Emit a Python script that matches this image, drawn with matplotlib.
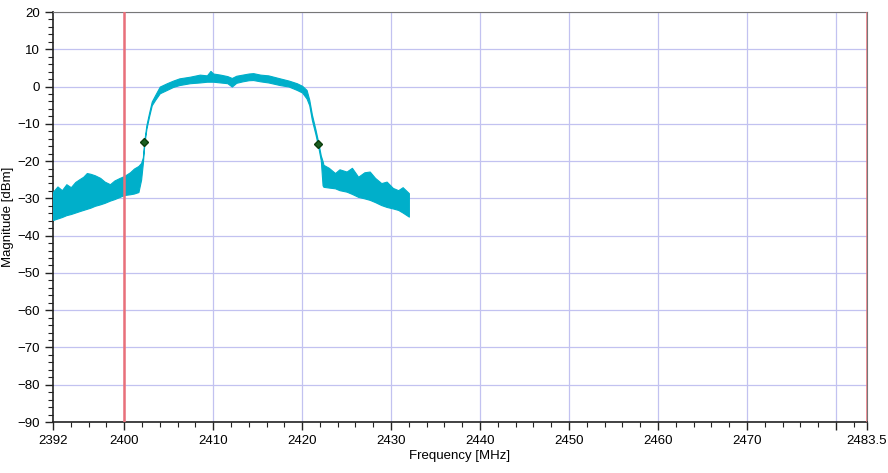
import matplotlib.pyplot as plt
from matplotlib.ticker import MultipleLocator, FixedLocator

# --- Daten (obere/untere Huellkurve des Spektrums) ---
freq_mhz = [2392.0, 2392.5, 2393.0, 2393.5, 2394.0, 2394.5, 2395.0, 2395.4, 2395.8, 2396.2,
            2396.7, 2397.3, 2397.8, 2398.4, 2398.9, 2399.5, 2400.0, 2400.65, 2401.1, 2401.6,
            2401.9, 2402.1, 2402.26, 2402.5, 2402.8, 2403.1, 2403.5, 2404.0, 2404.8, 2405.5,
            2406.2, 2407.4, 2408.5, 2409.3, 2409.7, 2410.0, 2410.8, 2411.6, 2412.1, 2412.6,
            2413.3, 2414.0, 2414.5, 2415.3, 2416.2, 2417.5, 2418.5, 2419.4, 2420.0, 2420.5,
            2420.8, 2421.1, 2421.5, 2421.8, 2422.1, 2422.3, 2422.4, 2423.0, 2423.7, 2424.2,
            2425.0, 2425.6, 2426.3, 2427.0, 2427.6, 2428.2, 2428.9, 2429.5, 2430.2, 2430.8,
            2431.3, 2432.0]
upper_dbm = [-28.2, -26.8, -27.8, -26.2, -27.0, -25.6, -24.8, -24.2, -23.2, -23.4,
             -23.8, -24.5, -25.5, -26.2, -25.2, -24.5, -24.0, -23.0, -22.0, -21.3,
             -20.5, -19.0, -14.5, -10.3, -7.0, -4.0, -2.2, 0.0, 0.9, 1.6,
             2.2, 2.65, 3.2, 3.0, 4.2, 3.5, 3.2, 2.8, 2.3, 2.9,
             3.2, 3.5, 3.6, 3.2, 3.0, 2.2, 1.6, 0.9, 0.2, -0.9,
             -3.5, -7.5, -11.5, -14.8, -18.5, -20.0, -21.0, -21.8, -23.2, -22.2,
             -22.8, -21.8, -24.2, -23.0, -22.8, -24.5, -25.9, -25.5, -27.2, -27.8,
             -27.0, -28.6]
lower_dbm = [-35.8, -35.4, -35.0, -34.5, -34.2, -33.8, -33.4, -33.1, -32.8, -32.5,
             -32.0, -31.6, -31.2, -30.6, -30.2, -29.6, -29.1, -28.9, -28.7, -28.3,
             -25.0, -20.5, -15.5, -11.3, -8.0, -5.0, -3.5, -1.8, -0.9, -0.1,
             0.4, 0.9, 1.1, 1.3, 1.3, 1.3, 1.1, 0.9, 0.0, 1.0,
             1.4, 1.7, 1.75, 1.4, 1.1, 0.4, 0.0, -0.9, -1.6, -3.2,
             -5.0, -9.0, -12.8, -16.0, -19.8, -26.5, -26.9, -27.1, -27.3, -27.8,
             -28.2, -28.8, -29.6, -30.0, -30.4, -31.0, -31.8, -32.3, -32.7, -33.1,
             -33.8, -34.9]

marker_f = [2402.26, 2421.8]
marker_dbm = [-15.0, -15.3]

limit_lines = [2400, 2483.5]
x_ticks = [2392, 2400, 2410, 2420, 2430, 2440, 2450, 2460, 2470, 2480, 2483.5]
x_tick_labels = ["2392", "2400", "2410", "2420", "2430", "2440", "2450", "2460", "2470", "", "2483.5"]
x_grid = [2400, 2410, 2420, 2430, 2440, 2450, 2460, 2470, 2480]

plt.rcParams["font.family"] = ["Liberation Sans", "DejaVu Sans"]

fig = plt.figure(figsize=(8.88, 4.73), dpi=100)
ax = fig.add_axes([0.0597, 0.1078, 0.9167, 0.8668])

trace_col = "#00AFCA"
ax.fill_between(freq_mhz, lower_dbm, upper_dbm, color=trace_col, lw=0.8, edgecolor=trace_col, zorder=3)

for f in limit_lines:
    ax.axvline(f, color="#E9707A", lw=1.8, zorder=4)

ax.plot(marker_f, marker_dbm, ls="none", marker="D", ms=4, color="#1B5E20",
        markeredgecolor="#0B3D0B", zorder=5)

ax.set_xlim(2392, 2483.5)
ax.set_ylim(-90, 20)

ax.xaxis.set_major_locator(FixedLocator(x_ticks))
ax.set_xticklabels(x_tick_labels)
ax.xaxis.set_minor_locator(MultipleLocator(2))
ax.yaxis.set_major_locator(MultipleLocator(10))
ax.yaxis.set_minor_locator(MultipleLocator(2))

ax.tick_params(which="major", direction="out", length=6, width=1, labelsize=9.5, color="#222222")
ax.tick_params(which="minor", direction="out", length=3.5, width=0.8, color="#222222")

# Gitter
for f in x_grid:
    ax.axvline(f, color="#C2C2F0", lw=0.9, zorder=1)
ax.yaxis.grid(True, color="#C2C2F0", lw=0.9, zorder=1)
ax.set_axisbelow(True)

for side in ["top", "right"]:
    ax.spines[side].set_color("#777777")
for side in ["left", "bottom"]:
    ax.spines[side].set_color("#222222")
    ax.spines[side].set_linewidth(1.2)

ax.set_xlabel("Frequency [MHz]", fontsize=9.5, labelpad=2)
ax.set_ylabel("Magnitude [dBm]", fontsize=9.5, labelpad=2)

fig.savefig("out.png", dpi=100)
